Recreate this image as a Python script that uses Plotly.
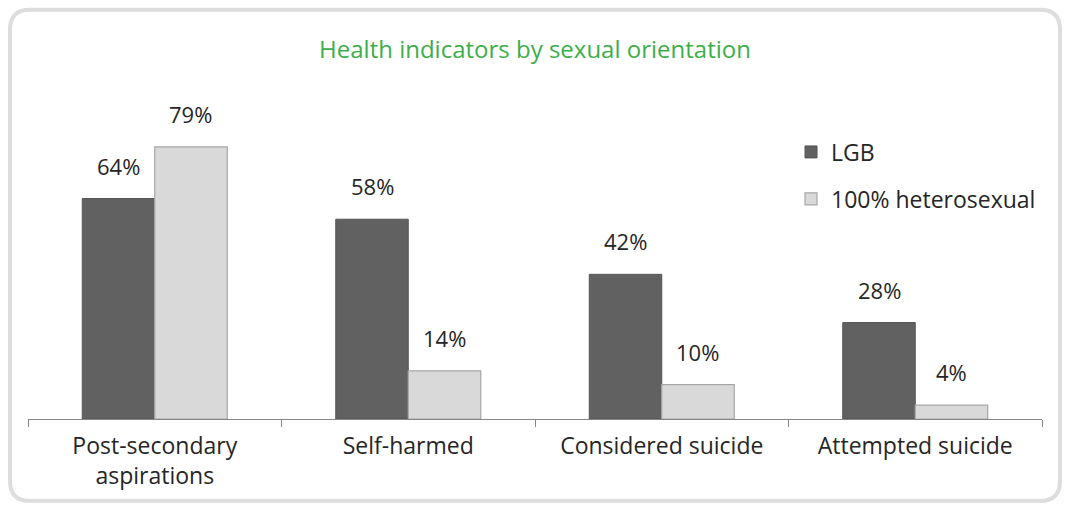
import plotly.graph_objects as go

categories = ["Post-secondary<br>aspirations", "Self-harmed", "Considered suicide", "Attempted suicide"]
lgb_values = [64, 58, 42, 28]
hetero_values = [79, 14, 10, 4]
series_names = ["LGB", "100% heterosexual"]

W, H = 1065, 508
L, R, T, B = 28, 23, 108.5, 89
FONT = "Open Sans, sans-serif"
TEXT = "#262626"


def px_x(px):
    return (px - L) / (W - L - R)


def px_y(py):
    return (H - B - py) / (H - B - T)


fig = go.Figure()
fig.add_trace(go.Bar(
    x=categories, y=lgb_values, name=series_names[0], legendgroup="a",
    marker=dict(color="#616161", line=dict(color="#555555", width=1)),
))
fig.add_trace(go.Bar(
    x=categories, y=hetero_values, name=series_names[1], legendgroup="b",
    marker=dict(color="#d9d9d9", line=dict(color="#a6a6a6", width=1.2)),
))

# value labels above bars
for vals, shift in ((lgb_values, -36), (hetero_values, 36)):
    for c, v in zip(categories, vals):
        fig.add_annotation(
            x=c, y=v, text=f"{v}%", showarrow=False,
            xshift=shift, yshift=33, yanchor="middle",
            font=dict(family=FONT, size=22, color=TEXT),
        )

# rounded frame around the chart
x0, x1 = px_x(10), px_x(1060)
y0, y1 = px_y(501), px_y(9)
rx, ry = 20 / (W - L - R), 20 / (H - B - T)
path = (
    f"M{x0 + rx},{y1} L{x1 - rx},{y1} Q{x1},{y1} {x1},{y1 - ry} "
    f"L{x1},{y0 + ry} Q{x1},{y0} {x1 - rx},{y0} "
    f"L{x0 + rx},{y0} Q{x0},{y0} {x0},{y0 + ry} "
    f"L{x0},{y1 - ry} Q{x0},{y1} {x0 + rx},{y1} Z"
)
fig.add_shape(type="path", path=path, xref="paper", yref="paper",
              line=dict(color="#dddddd", width=4), layer="below")

fig.update_layout(
    width=W, height=H,
    margin=dict(l=L, r=R, t=T, b=B),
    paper_bgcolor="white", plot_bgcolor="white",
    font=dict(family=FONT, size=23, color=TEXT),
    title=dict(
        text="Health indicators by sexual orientation",
        x=px_x(535), xref="paper", xanchor="center",
        y=1 - 50 / H, yref="container", yanchor="middle",
        font=dict(family=FONT, size=24, color="#3dae49"),
    ),
    barmode="group", bargap=0.428, bargroupgap=0,
    showlegend=True,
    legend=dict(
        x=px_x(791), y=px_y(130), xanchor="left", yanchor="top",
        tracegroupgap=14, traceorder="grouped",
        font=dict(family=FONT, size=23, color=TEXT),
        bgcolor="rgba(0,0,0,0)",
    ),
    xaxis=dict(
        showline=True, linecolor="#868686", linewidth=1,
        ticks="outside", tickson="boundaries", ticklen=7, tickcolor="#868686",
        ticklabelstandoff=6,
        tickfont=dict(family=FONT, size=23, color=TEXT),
        showgrid=False,
    ),
    yaxis=dict(range=[0, 90], visible=False, showgrid=False),
)

fig.write_html(
    "out.html",
    config={"displayModeBar": False},
    post_script="document.body.style.margin='0';document.body.style.overflow='hidden';",
)
